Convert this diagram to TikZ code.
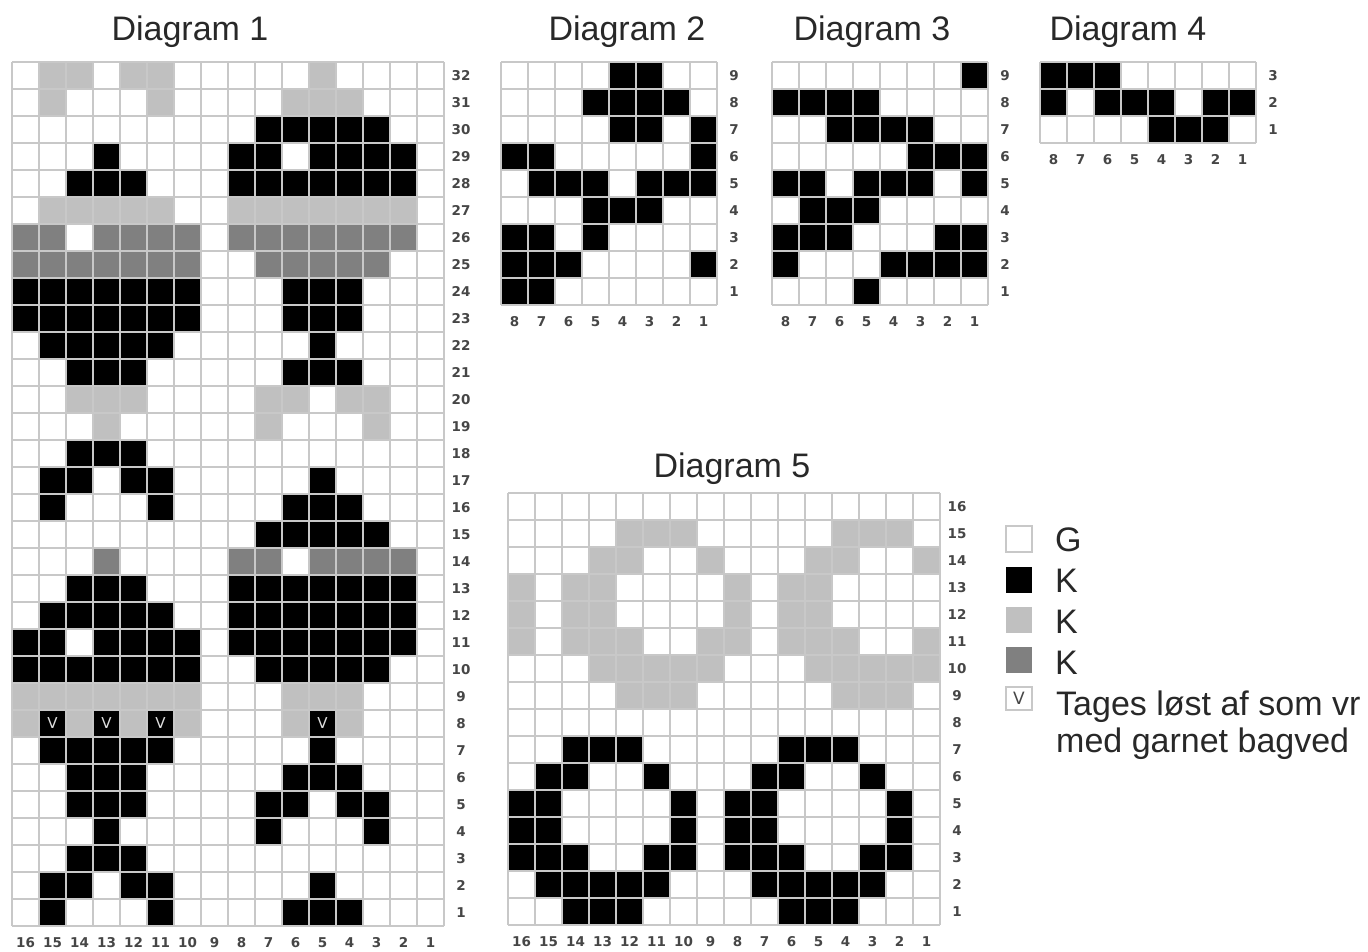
\documentclass[tikz,border=0pt]{standalone}
\usepackage{fontspec}
\setmainfont{Liberation Sans}
\newfontfamily\numfont{DejaVu Sans}
\definecolor{lg}{RGB}{192,192,192}
\definecolor{dg}{RGB}{128,128,128}
\definecolor{gl}{RGB}{200,200,200}
\definecolor{numc}{RGB}{70,70,70}
\definecolor{txt}{RGB}{40,40,40}
\def\kcdraw#1{%
 \if#1B\fill[black] (\kcx,\kcy) rectangle ++(27,27);\fi
 \if#1L\fill[lg] (\kcx,\kcy) rectangle ++(27,27);\fi
 \if#1D\fill[dg] (\kcx,\kcy) rectangle ++(27,27);\fi
 \if#1V\fill[black] (\kcx,\kcy) rectangle ++(27,27); \node[vmark] at (\kcx+13.5,\kcy+13.5) {V};\fi}
\def\kcparse#1{\ifx#1\relax\else\kcdraw{#1}\pgfmathsetmacro\kcx{\kcx+27}\expandafter\kcparse\fi}
\newcommand\kchart[5]{%
 \foreach \s [count=\i from 0] in {#5} {
   \pgfmathsetmacro\kcy{#2+\i*27}
   \def\kcx{#1}
   \expandafter\kcparse\s\relax
 }
 \foreach \j in {0,...,#3} \draw[gridline] (#1+\j*27,#2) -- ++(0,#4*27);
 \foreach \i in {0,...,#4} \draw[gridline] (#1,#2+\i*27) -- ++(#3*27,0);
 \foreach \i in {1,...,#4} \node[numlab] at (#1+#3*27+17,#2+#4*27-\i*27+13.5) {\i};
 \foreach \j in {1,...,#3} \node[numlab] at (#1+#3*27-\j*27+13.5,#2+#4*27+17) {\j};
}
\begin{document}
\begin{tikzpicture}[x=1pt,y=-1pt,
 gridline/.style={draw=gl,line width=1.5pt},
 numlab/.style={font=\numfont\bfseries\fontsize{13.5}{13.5}\selectfont,text=numc,inner sep=0pt,text height=9.8pt,text depth=0pt},
 vmark/.style={font=\numfont\fontsize{15}{15}\selectfont,text=gray!25,inner sep=0pt},
 title/.style={font=\fontsize{34}{34}\selectfont,text=txt,anchor=base,inner sep=0pt},
 legtext/.style={font=\fontsize{34}{34}\selectfont,anchor=base west,inner sep=0pt,text=txt}]
\useasboundingbox (0,0) rectangle (1368,951);
\fill[white] (0,0) rectangle (1368,951);
% Diagram 1
\kchart{12}{62}{16}{32}{wLLwLLwwwwwLwwww,wLwwwLwwwwLLLwww,wwwwwwwwwBBBBBww,wwwBwwwwBBwBBBBw,wwBBBwwwBBBBBBBw,wLLLLLwwLLLLLLLw,DDwDDDDwDDDDDDDw,DDDDDDDwwDDDDDww,BBBBBBBwwwBBBwww,BBBBBBBwwwBBBwww,wBBBBBwwwwwBwwww,wwBBBwwwwwBBBwww,wwLLLwwwwLLwLLww,wwwLwwwwwLwwwLww,wwBBBwwwwwwwwwww,wBBwBBwwwwwBwwww,wBwwwBwwwwBBBwww,wwwwwwwwwBBBBBww,wwwDwwwwDDwDDDDw,wwBBBwwwBBBBBBBw,wBBBBBwwBBBBBBBw,BBwBBBBwBBBBBBBw,BBBBBBBwwBBBBBww,LLLLLLLwwwLLLwww,LVLVLVLwwwLVLwww,wBBBBBwwwwwBwwww,wwBBBwwwwwBBBwww,wwBBBwwwwBBwBBww,wwwBwwwwwBwwwBww,wwBBBwwwwwwwwwww,wBBwBBwwwwwBwwww,wBwwwBwwwwBBBwww}
% Diagram 2
\kchart{501}{62}{8}{9}{wwwwBBww,wwwBBBBw,wwwwBBwB,BBwwwwwB,wBBBwBBB,wwwBBBww,BBwBwwww,BBBwwwwB,BBwwwwww}
% Diagram 3
\kchart{772}{62}{8}{9}{wwwwwwwB,BBBBwwww,wwBBBBww,wwwwwBBB,BBwBBBwB,wBBBwwww,BBBwwwBB,BwwwBBBB,wwwBwwww}
% Diagram 4
\kchart{1040}{62}{8}{3}{BBBwwwww,BwBBBwBB,wwwwBBBw}
% Diagram 5
\kchart{508}{493}{16}{16}{wwwwwwwwwwwwwwww,wwwwLLLwwwwwLLLw,wwwLLwwLwwwLLwwL,LwLLwwwwLwLLwwww,LwLLwwwwLwLLwwww,LwLLLwwLLwLLLwwL,wwwLLLLLwwwLLLLL,wwwwLLLwwwwwLLLw,wwwwwwwwwwwwwwww,wwBBBwwwwwBBBwww,wBBwwBwwwBBwwBww,BBwwwwBwBBwwwwBw,BBwwwwBwBBwwwwBw,BBBwwBBwBBBwwBBw,wBBBBBwwwBBBBBww,wwBBBwwwwwBBBwww}
% Titles
\node[title] (t1) at (190,40) {Diagram 1};
\node[title] (t2) at (627,40) {Diagram 2};
\node[title] (t3) at (872,40) {Diagram 3};
\node[title] (t4) at (1128,40) {Diagram 4};
\node[title] (t5) at (732,477) {Diagram 5};
% Legend
\draw[gl,line width=1.2pt,fill=white] (1006,526) rectangle (1032,552);
\fill[black] (1006,567) rectangle (1032,593);
\fill[lg] (1006,607) rectangle (1032,633);
\fill[dg] (1006,647) rectangle (1032,673);
\draw[gl,line width=1.2pt,fill=white] (1006,687) rectangle (1032,710);
\node[font=\numfont\fontsize{17}{17}\selectfont,text=numc,inner sep=0pt] (lv) at (1019,698.5) {V};
\node[legtext] (l1) at (1055,551) {G};
\node[legtext] (l2) at (1055,592) {K};
\node[legtext] (l3) at (1055,633) {K};
\node[legtext] (l4) at (1055,674) {K};
\node[legtext] (l5) at (1056,715) {Tages løst af som vr};
\node[legtext] (l6) at (1056,752) {med garnet bagved};
\end{tikzpicture}
\end{document}
